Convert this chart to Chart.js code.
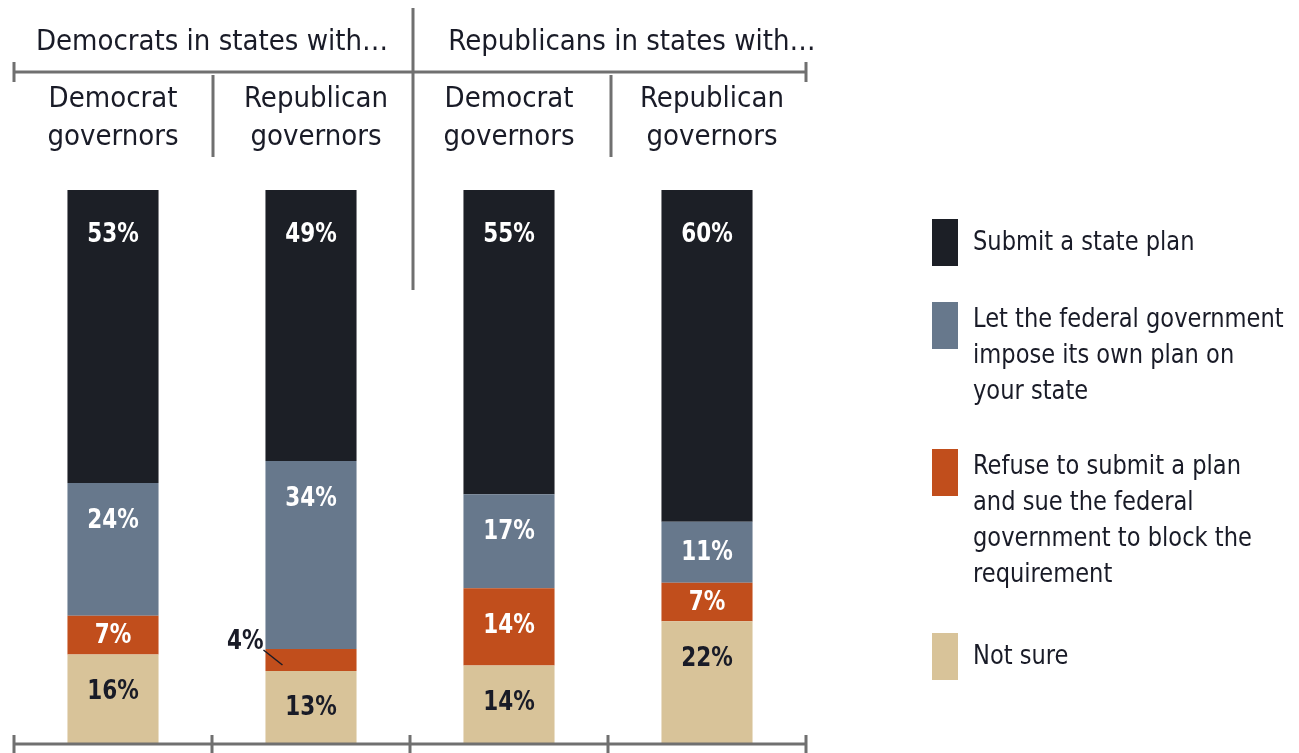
<!DOCTYPE html>
<html>
<head>
<meta charset="utf-8">
<script src="https://cdn.jsdelivr.net/npm/chart.js@4"></script>
<style>
  html, body { margin: 0; padding: 0; background: #fff; }
  #wrap { width: 1299px; height: 753px; position: relative; }
</style>
</head>
<body>
<div id="wrap"><canvas id="chart" width="1299" height="753"></canvas></div>
<script>
"use strict";

const groupLabels = ["Democrats in states with…", "Republicans in states with…"];
const categories = [
  ["Democrat", "governors"],
  ["Republican", "governors"],
  ["Democrat", "governors"],
  ["Republican", "governors"]
];

// bottom to top
const notSure = [16, 13, 14, 22];
const refuseSue = [7, 4, 14, 7];
const letFederal = [24, 34, 17, 11];
const submitPlan = [53, 49, 55, 60];

const legendLines = [
  ["Submit a state plan"],
  ["Let the federal government", "impose its own plan on", "your state"],
  ["Refuse to submit a plan", "and sue the federal", "government to block the", "requirement"],
  ["Not sure"]
];

const FONT = '"Liberation Sans Narrow", "DejaVu Sans Condensed", sans-serif';
const TEXT = "#191b27";
const LINE = "#707070";

const colors = {
  submit: "#1c1f26",
  fed: "#67788c",
  refuse: "#c14e1c",
  notSure: "#d8c399"
};

// draw text squeezed horizontally (the original uses a condensed face)
function squeezed(ctx, text, x, y, sx) {
  ctx.save();
  ctx.translate(x, y);
  ctx.scale(sx, 1);
  ctx.fillText(text, 0, 0);
  ctx.restore();
}

const decorPlugin = {
  id: "decor",
  afterDatasetsDraw(chart) {
    const ctx = chart.ctx;
    const x = chart.scales.x;
    const area = chart.chartArea;
    const half = (x.getPixelForValue(1) - x.getPixelForValue(0)) / 2;
    const left = x.getPixelForValue(0) - half;
    const right = x.getPixelForValue(3) + half;
    const mid = (left + right) / 2;

    ctx.save();
    ctx.strokeStyle = LINE;
    ctx.lineWidth = 3;

    // bottom axis with ticks
    ctx.beginPath();
    ctx.moveTo(left, area.bottom + 1);
    ctx.lineTo(right, area.bottom + 1);
    for (let i = 0; i <= 4; i++) {
      const px = left + i * half * 2;
      ctx.moveTo(px, area.bottom - 8);
      ctx.lineTo(px, 753);
    }
    ctx.stroke();

    // header bracket
    const hy = 72;
    ctx.beginPath();
    ctx.moveTo(left, hy);
    ctx.lineTo(right, hy);
    ctx.moveTo(left, hy - 10);
    ctx.lineTo(left, hy + 10);
    ctx.moveTo(right, hy - 10);
    ctx.lineTo(right, hy + 10);
    ctx.moveTo(mid + 3, 8);
    ctx.lineTo(mid + 3, 290);
    ctx.moveTo(left + half * 2 + 1, hy + 3);
    ctx.lineTo(left + half * 2 + 1, 157);
    ctx.moveTo(left + half * 6 + 3, hy + 3);
    ctx.lineTo(left + half * 6 + 3, 157);
    ctx.stroke();

    // header texts
    ctx.fillStyle = TEXT;
    ctx.textAlign = "center";
    ctx.textBaseline = "middle";
    ctx.font = "29px " + FONT;
    ctx.fillText(groupLabels[0], (left + mid) / 2, 42);
    ctx.fillText(groupLabels[1], (mid + right) / 2 + 24, 42);
    ctx.font = "500 29px " + FONT;
    categories.forEach((lines, i) => {
      const cx = x.getPixelForValue(i) + (i % 2 ? 5 : 0);
      lines.forEach((t, j) => ctx.fillText(t, cx, 99 + j * 38));
    });

    // value labels
    ctx.font = "bold 26px " + FONT;
    chart.data.datasets.forEach((ds, di) => {
      const meta = chart.getDatasetMeta(di);
      meta.data.forEach((bar, i) => {
        const v = ds.data[i];
        const top = bar.y;
        const h = bar.base - bar.y;
        const label = v + "%";
        if (h < 30) {
          ctx.fillStyle = TEXT;
          ctx.textAlign = "right";
          squeezed(ctx, label, bar.x - bar.width / 2 - 2, top - 7, 0.92);
          ctx.strokeStyle = TEXT;
          ctx.lineWidth = 1.5;
          ctx.beginPath();
          ctx.moveTo(bar.x - bar.width / 2 - 2, top + 1);
          ctx.lineTo(bar.x - bar.width / 2 + 17, top + 16);
          ctx.stroke();
          ctx.textAlign = "center";
          return;
        }
        ctx.fillStyle = ds.labelColor;
        const off = di === 3 ? 44 : 37;
        squeezed(ctx, label, bar.x, top + Math.min(off, h / 2) + 1, 0.92);
      });
    });

    // legend, top to bottom
    const legendTops = [219, 302, 449, 633];
    const order = chart.data.datasets.slice().reverse();
    ctx.textAlign = "left";
    ctx.font = "27px " + FONT;
    order.forEach((ds, k) => {
      const ty = legendTops[k];
      ctx.fillStyle = ds.backgroundColor;
      ctx.fillRect(932, ty, 26, 47);
      ctx.fillStyle = TEXT;
      const lines = legendLines[k];
      const first = lines.length === 1 ? ty + 24 : ty + 18;
      lines.forEach((t, j) => squeezed(ctx, t, 973, first + j * 36, 0.93));
    });
    ctx.restore();
  }
};

new Chart(document.getElementById("chart"), {
  type: "bar",
  data: {
    labels: categories.map((c) => c.join(" ")),
    datasets: [
      { label: "Not sure", data: notSure, backgroundColor: colors.notSure, labelColor: TEXT },
      { label: "Refuse to submit a plan", data: refuseSue, backgroundColor: colors.refuse, labelColor: "#ffffff" },
      { label: "Let the federal government", data: letFederal, backgroundColor: colors.fed, labelColor: "#ffffff" },
      { label: "Submit a state plan", data: submitPlan, backgroundColor: colors.submit, labelColor: "#ffffff" }
    ]
  },
  options: {
    responsive: false,
    animation: false,
    layout: { padding: { left: 14, right: 493, top: 190, bottom: 10 } },
    datasets: { bar: { barPercentage: 0.46, categoryPercentage: 1, borderWidth: 0 } },
    plugins: { legend: { display: false }, tooltip: { enabled: false } },
    scales: {
      x: { stacked: true, display: false },
      y: { stacked: true, display: false, min: 0, max: 100 }
    }
  },
  plugins: [decorPlugin]
});
</script>
</body>
</html>
